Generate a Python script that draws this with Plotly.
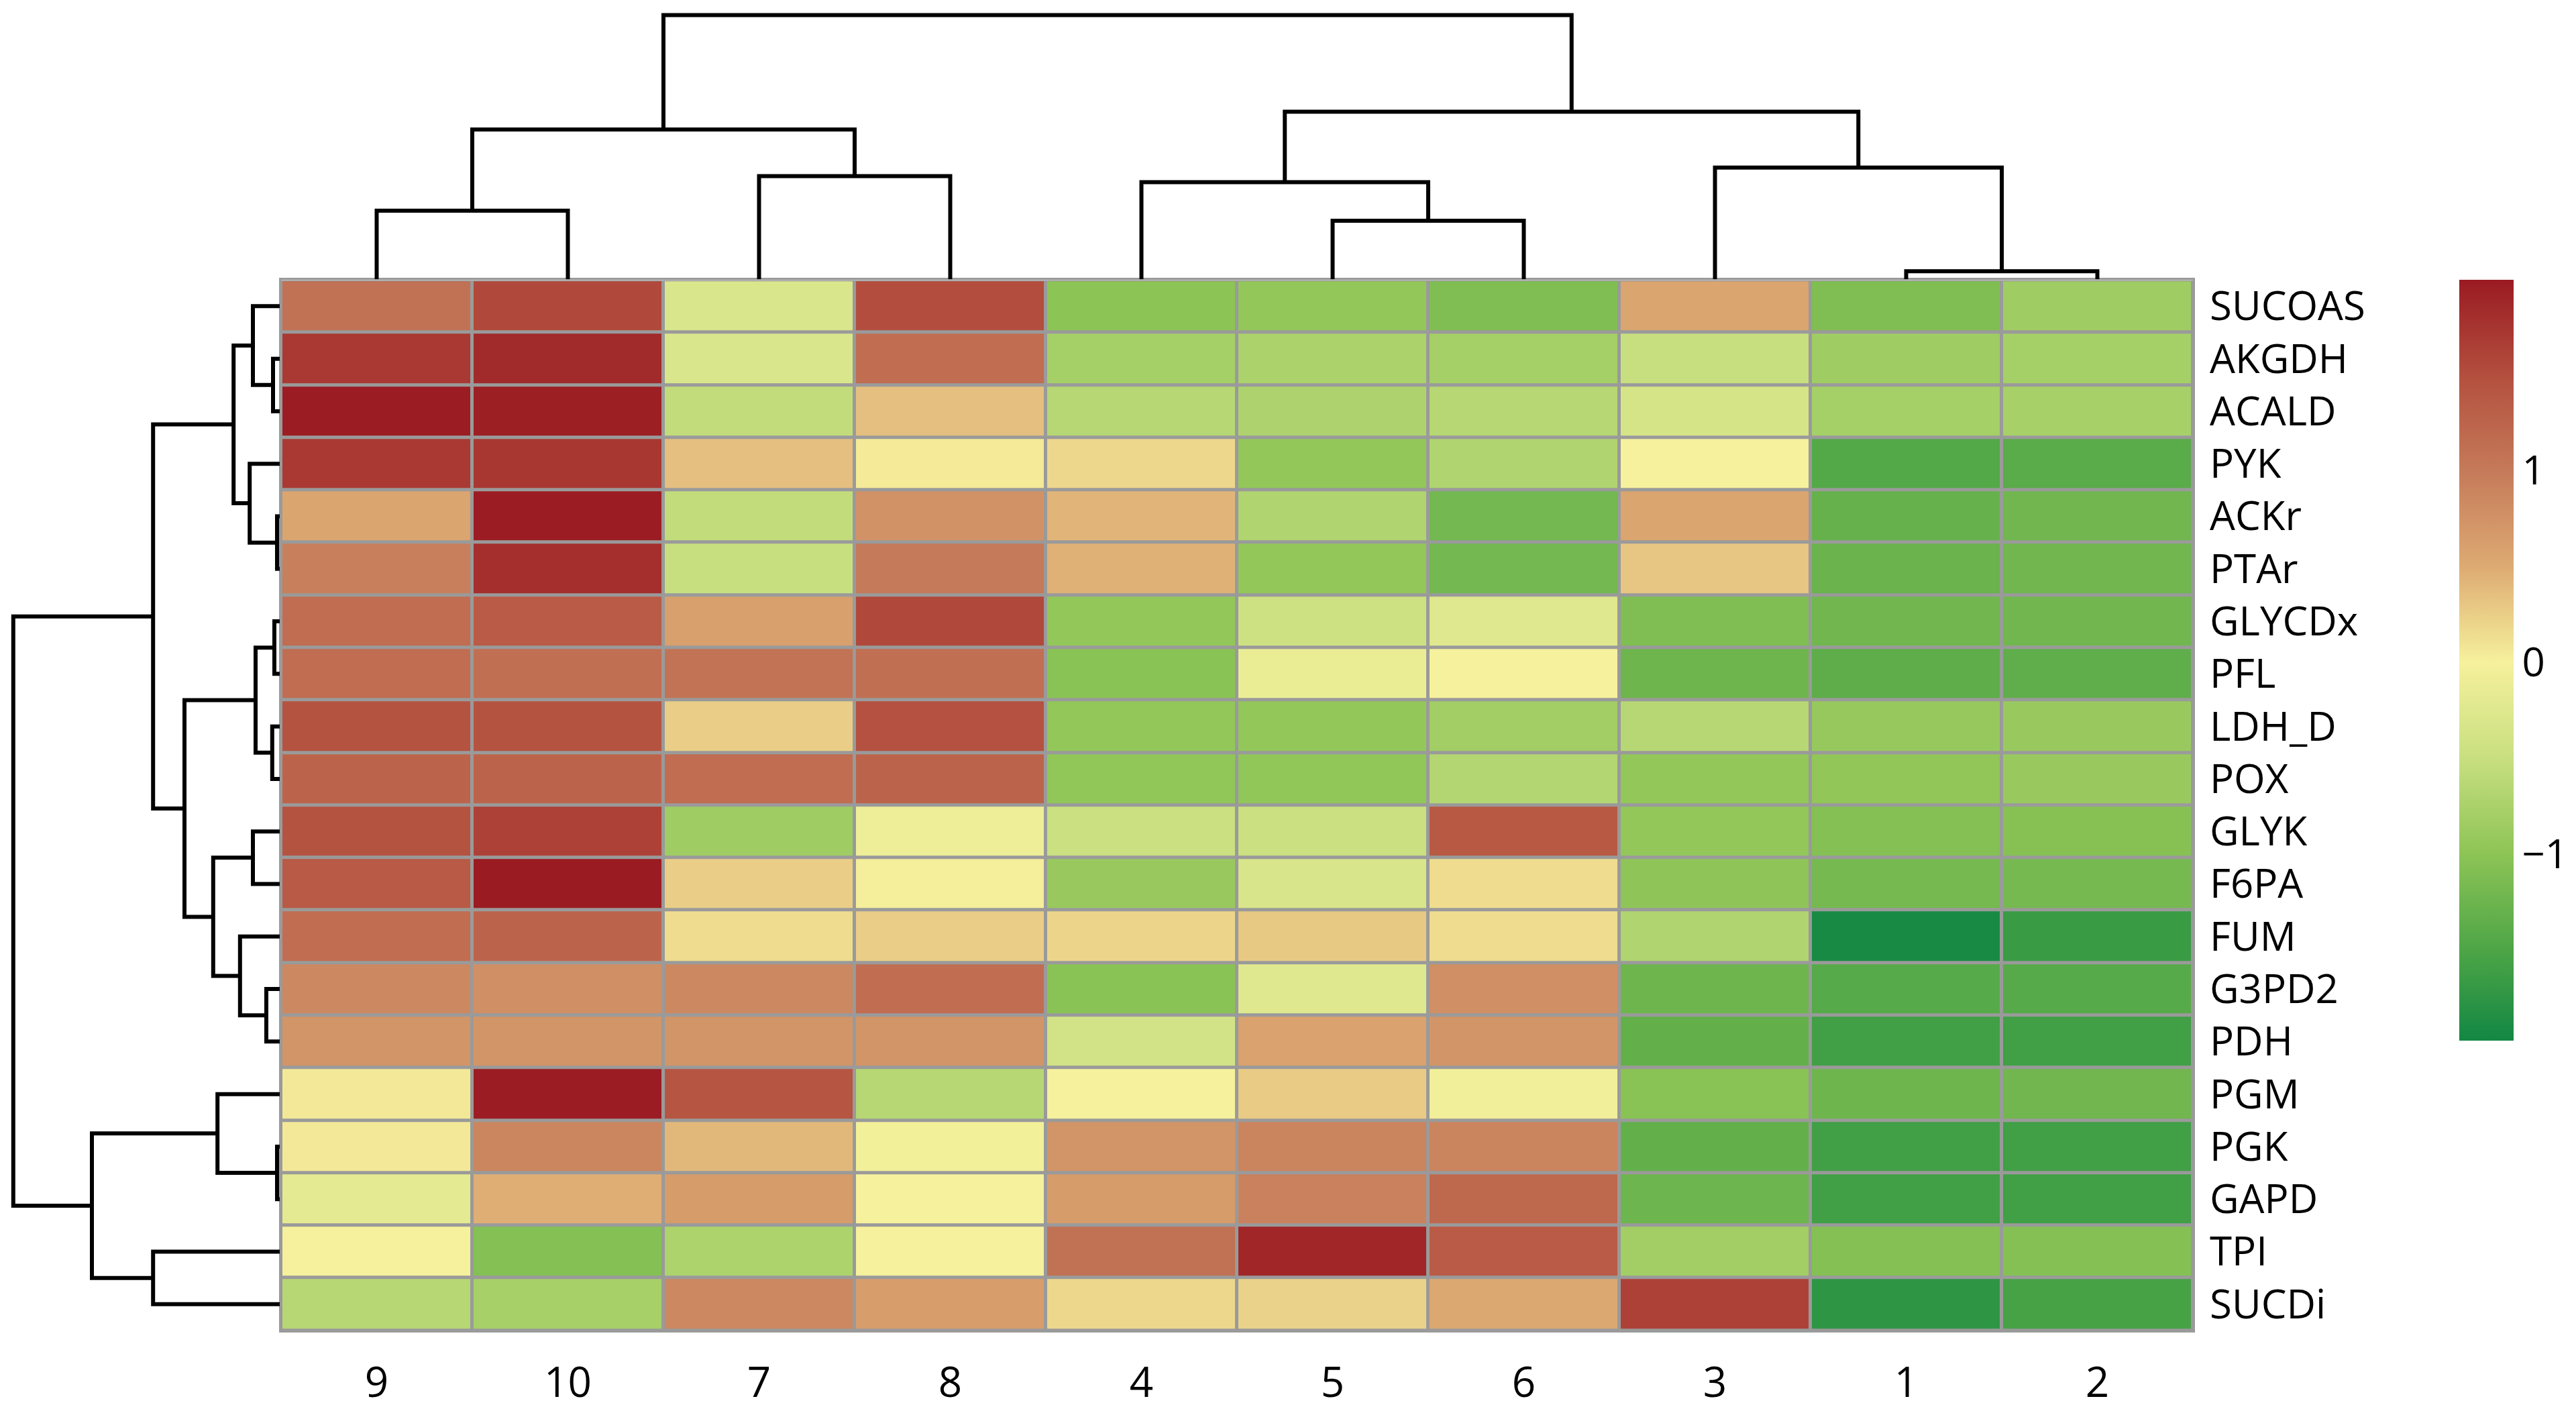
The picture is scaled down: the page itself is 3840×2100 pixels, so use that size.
import plotly.graph_objects as go

# column order as drawn (after clustering)
samples = ["9", "10", "7", "8", "4", "5", "6", "3", "1", "2"]
reactions = ["SUCOAS", "AKGDH", "ACALD", "PYK", "ACKr", "PTAr", "GLYCDx", "PFL",
             "LDH_D", "POX", "GLYK", "F6PA", "FUM", "G3PD2", "PDH", "PGM",
             "PGK", "GAPD", "TPI", "SUCDi"]

# row-scaled values, one list per reaction, columns in the order of `samples`
sucoas = [1.10, 1.55, -0.30, 1.50, -1.00, -0.95, -1.10, 0.55, -1.10, -0.85]
akgdh = [1.70, 1.85, -0.30, 1.15, -0.80, -0.75, -0.80, -0.50, -0.85, -0.80]
acald = [1.97, 1.95, -0.55, 0.35, -0.65, -0.72, -0.65, -0.35, -0.80, -0.78]
pyk = [1.70, 1.72, 0.35, 0.05, 0.18, -0.95, -0.70, 0.00, -1.45, -1.40]
ackr = [0.55, 1.97, -0.55, 0.75, 0.42, -0.70, -1.20, 0.55, -1.30, -1.22]
ptar = [0.95, 1.80, -0.50, 1.00, 0.45, -0.95, -1.20, 0.30, -1.27, -1.22]
glycdx = [1.15, 1.35, 0.60, 1.55, -0.95, -0.45, -0.25, -1.10, -1.22, -1.22]
pfl = [1.15, 1.12, 1.08, 1.12, -1.02, -0.12, 0.00, -1.24, -1.37, -1.35]
ldh_d = [1.45, 1.45, 0.25, 1.47, -0.95, -0.95, -0.82, -0.65, -0.92, -0.90]
pox = [1.25, 1.25, 1.15, 1.25, -0.97, -0.97, -0.67, -0.95, -0.96, -0.90]
glyk = [1.45, 1.62, -0.85, -0.08, -0.48, -0.48, 1.38, -0.95, -1.07, -1.05]
f6pa = [1.37, 1.99, 0.25, 0.02, -0.90, -0.33, 0.15, -0.98, -1.18, -1.17]
fum = [1.15, 1.25, 0.15, 0.25, 0.20, 0.28, 0.15, -0.70, -1.92, -1.65]
g3pd2 = [0.85, 0.78, 0.85, 1.15, -1.02, -0.25, 0.78, -1.24, -1.42, -1.42]
pdh = [0.72, 0.72, 0.72, 0.72, -0.40, 0.58, 0.72, -1.33, -1.60, -1.60]
pgm = [0.06, 1.97, 1.42, -0.65, 0.00, 0.27, -0.05, -1.02, -1.24, -1.22]
pgk = [0.06, 0.88, 0.40, -0.03, 0.72, 0.90, 0.90, -1.33, -1.60, -1.60]
gapd = [-0.20, 0.47, 0.65, 0.00, 0.65, 0.92, 1.20, -1.25, -1.60, -1.60]
tpi = [0.00, -1.07, -0.73, 0.00, 1.10, 1.88, 1.35, -0.82, -1.07, -1.07]
sucdi = [-0.65, -0.78, 0.85, 0.62, 0.18, 0.22, 0.52, 1.62, -1.75, -1.55]

z = [sucoas, akgdh, acald, pyk, ackr, ptar, glycdx, pfl, ldh_d, pox,
     glyk, f6pa, fum, g3pd2, pdh, pgm, pgk, gapd, tpi, sucdi]

# merges (left leaf/node, right leaf/node, height); leaves are display positions
col_links = [(8, 9, 0.30), (5, 6, 2.20), (0, 1, 2.58), (4, 11, 3.65), (2, 3, 3.88),
             (7, 10, 4.20), (12, 14, 5.63), (13, 15, 6.30), (16, 17, 9.93)]
row_links = [(4, 5, 0.10), (16, 17, 0.10), (6, 7, 0.20), (1, 2, 0.25), (8, 9, 0.28),
             (13, 14, 0.50), (22, 24, 0.90), (0, 23, 1.00), (10, 11, 1.00),
             (3, 20, 1.12), (12, 25, 1.48), (27, 29, 1.72), (15, 21, 2.32),
             (28, 30, 2.48), (26, 33, 3.55), (31, 34, 4.72), (18, 19, 4.72),
             (32, 36, 7.00), (35, 37, 9.93)]

zmin, zmax = -1.97, 1.99
scale_vals = [-1.97, -1.5, -1.0, -0.5, 0.0, 0.5, 1.0, 1.48, 1.99]
scale_cols = ["#138744", "#4da546", "#8dc456", "#c8df80", "#f6f19c",
              "#ddaa72", "#c57a59", "#b4503f", "#9a1b22"]
colorscale = [[(v - zmin) / (zmax - zmin), c] for v, c in zip(scale_vals, scale_cols)]


def dendro(links, n):
    pos = {i: float(i) for i in range(n)}
    hgt = {i: 0.0 for i in range(n)}
    p, h = [], []
    for k, (a, b, ht) in enumerate(links):
        p += [pos[a], pos[a], pos[b], pos[b], None]
        h += [hgt[a], ht, ht, hgt[b], None]
        pos[n + k] = (pos[a] + pos[b]) / 2
        hgt[n + k] = ht
    return p, h


W, H = 3840, 2100
hm_x0, hm_x1 = 419, 3269
hm_y0, hm_y1 = 418, 1998
ppu = 40.0  # pixels per dendrogram height unit

fig = go.Figure()

fig.add_trace(go.Heatmap(
    z=z, x=list(range(len(samples))), y=list(range(len(reactions))),
    zmin=zmin, zmax=zmax, colorscale=colorscale, xgap=5, ygap=5,
    colorbar=dict(x=3666 / W, xanchor="left", y=1 - hm_y0 / H, yanchor="top",
                  len=1144 / H, lenmode="fraction", thickness=81, outlinewidth=0,
                  tickvals=[-1, 0, 1], ticks="", xpad=0, ypad=0,
                  tickfont=dict(size=60, color="black")),
    xaxis="x", yaxis="y"))

cx, cy = dendro(col_links, len(samples))
fig.add_trace(go.Scatter(x=cx, y=cy, mode="lines", line=dict(color="black", width=6),
                         xaxis="x2", yaxis="y2", hoverinfo="skip"))
ry, rx = dendro(row_links, len(reactions))
fig.add_trace(go.Scatter(x=rx, y=ry, mode="lines", line=dict(color="black", width=6),
                         xaxis="x3", yaxis="y3", hoverinfo="skip"))

fig.add_shape(type="rect", xref="x", yref="y", x0=-0.5, x1=len(samples) - 0.5,
              y0=-0.5, y1=len(reactions) - 0.5, fillcolor="#9a9a9a",
              line=dict(width=0), layer="below")

hm_xdom = [hm_x0 / W, hm_x1 / W]
hm_ydom = [1 - hm_y1 / H, 1 - hm_y0 / H]

fig.update_layout(
    width=W, height=H, margin=dict(l=0, r=0, t=0, b=0),
    paper_bgcolor="white", plot_bgcolor="white", showlegend=False,
    font=dict(family="Open Sans", size=60, color="black"),
    xaxis=dict(domain=hm_xdom, range=[-0.5, len(samples) - 0.5], tickvals=list(range(len(samples))),
               ticktext=samples, ticks="", showgrid=False, zeroline=False,
               showline=True, mirror=True, linecolor="#9a9a9a", linewidth=3,
               ticklabelstandoff=22, tickfont=dict(size=62), anchor="y"),
    yaxis=dict(domain=hm_ydom, range=[len(reactions) - 0.5, -0.5], side="right",
               tickvals=list(range(len(reactions))), ticktext=reactions, ticks="",
               showgrid=False, zeroline=False, showline=True, mirror=True,
               linecolor="#9a9a9a", linewidth=3, ticklabelstandoff=10, anchor="x"),
    xaxis2=dict(domain=hm_xdom, range=[-0.5, len(samples) - 0.5], visible=False, anchor="y2"),
    yaxis2=dict(domain=[1 - (hm_y0 - 1) / H, 1 - 10 / H], range=[0, (hm_y0 - 11) / ppu],
                visible=False, anchor="x2"),
    xaxis3=dict(domain=[10 / W, (hm_x0 - 2) / W], range=[(hm_x0 - 12) / ppu, 0],
                visible=False, anchor="y3"),
    yaxis3=dict(domain=hm_ydom, range=[len(reactions) - 0.5, -0.5], visible=False, anchor="x3"),
)

# drop the default page margin so the 3840x2100 figure fills the window exactly
fig.write_html("out.html", config={"displayModeBar": False},
               post_script="document.body.style.margin='0';")
